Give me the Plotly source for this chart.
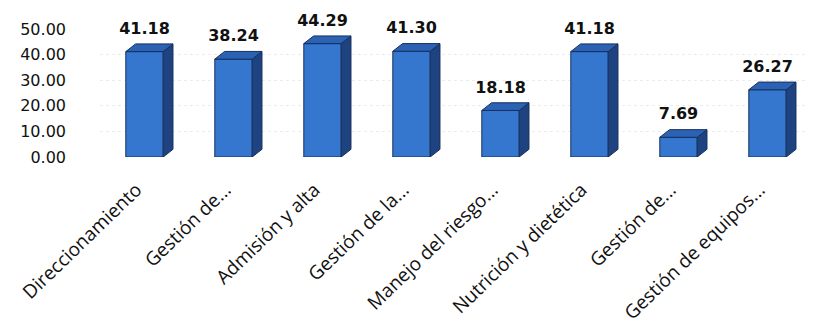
import plotly.graph_objects as go

categories = ["Direccionamiento", "Gestión de...", "Admisión y alta", "Gestión de la...",
              "Manejo del riesgo...", "Nutrición y dietética", "Gestión de...", "Gestión de equipos..."]
values = [41.18, 38.24, 44.29, 41.30, 18.18, 41.18, 7.69, 26.27]
tick_vals_y = [0, 10, 20, 30, 40, 50]
tick_text_y = ["0.00", "10.00", "20.00", "30.00", "40.00", "50.00"]

W = 0.42   # bar width (category units)
DX = 0.11  # 3D depth horizontal
DY = 3.0   # 3D depth vertical (value units)
LABEL_GAP = 2.4

FRONT = "#3577cf"
SIDE = "#1f4280"
TOP = "#2c62b4"
EDGE = "#17305e"

xs = list(range(len(categories)))
fig = go.Figure()

for i, v in zip(xs, values):
    r = i + W / 2
    l = i - W / 2
    fig.add_trace(go.Scatter(
        x=[r, r + DX, r + DX, r, r], y=[0, DY, v + DY, v, 0],
        mode="lines", fill="toself", fillcolor=SIDE,
        line=dict(color=EDGE, width=1), hoverinfo="skip", showlegend=False))
    fig.add_trace(go.Scatter(
        x=[l, l + DX, r + DX, r, l], y=[v, v + DY, v + DY, v, v],
        mode="lines", fill="toself", fillcolor=TOP,
        line=dict(color=EDGE, width=1), hoverinfo="skip", showlegend=False))

fig.add_trace(go.Bar(
    x=xs, y=values, width=W, marker=dict(color=FRONT, line=dict(color=EDGE, width=1)),
    showlegend=False, hoverinfo="skip"))

fig.add_trace(go.Scatter(
    x=xs, y=[v + DY + LABEL_GAP for v in values],
    mode="text", text=[f"{v:.2f}" for v in values], textposition="top center",
    textfont=dict(family="DejaVu Sans", size=16, color="#111111", weight="bold"),
    cliponaxis=False, showlegend=False, hoverinfo="skip"))

fig.update_layout(
    width=816, height=327,
    margin=dict(l=92, r=12, t=21, b=178),
    paper_bgcolor="white", plot_bgcolor="white",
    barmode="overlay",
    xaxis=dict(range=[-0.5, 7.5], tickmode="array", tickvals=xs, ticktext=categories,
               tickangle=-44, showgrid=False, zeroline=False, showline=False,
               automargin=False, ticklabelstandoff=17, ticklabelshift=-8,
               tickfont=dict(family="Open Sans", size=19, color="#111111")),
    yaxis=dict(range=[0, 50], tickmode="array", tickvals=tick_vals_y, ticktext=tick_text_y,
               showgrid=True, gridcolor="#ececec", griddash="dot", zeroline=False,
               showline=False, ticklabelstandoff=33, automargin=False,
               tickfont=dict(family="DejaVu Sans", size=16, color="#111111")),
)

fig.write_html("out.html")
